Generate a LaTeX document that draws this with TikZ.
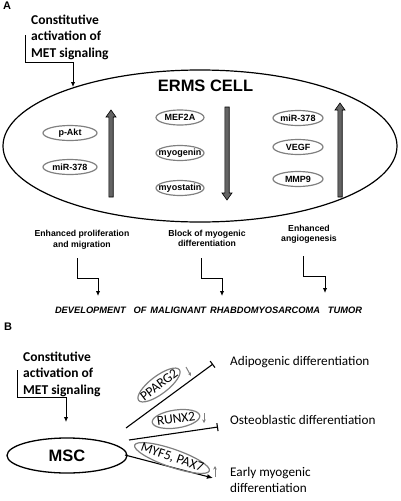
\documentclass[tikz,border=0pt]{standalone}
\usepackage{fontspec}
\setmainfont{Carlito}
\newfontfamily\arial{Liberation Sans}
\usetikzlibrary{arrows.meta,shapes.geometric}
\definecolor{fatgray}{RGB}{100,100,100}
\definecolor{ringgray}{RGB}{128,128,128}
\begin{document}
\begin{tikzpicture}[x=1pt,y=-1pt,
  conn/.style={line width=1pt,-{Latex[length=5pt,width=4.5pt]}},
  teeline/.style={line width=1.1pt,-{Bar[width=8pt,line width=1.1pt]}},
  arrline/.style={line width=1.1pt,-{Latex[length=6pt,width=5pt]}},
  graysmall/.style={draw=ringgray,line width=1pt,-{Stealth[length=3.5pt,width=3.5pt]}},
  gellA/.style={ellipse,draw=ringgray,line width=1.2pt,inner xsep=-8pt,inner ysep=-3pt,
    minimum height=15,font=\arial\bfseries\fontsize{9}{10}\selectfont},
  gellB/.style={ellipse,draw=ringgray,line width=1.2pt,inner xsep=-9pt,inner ysep=-5pt,
    font=\fontsize{13.5}{15}\selectfont},
  fat/.style={draw=black,line width=0.6pt,fill=fatgray},
  panel/.style={font=\arial\bfseries\fontsize{11}{13}\selectfont},
  consttext/.style={align=left,inner sep=0,font=\bfseries\fontsize{13.5}{16.5}\selectfont},
  outtext/.style={align=center,inner sep=0,font=\arial\bfseries\fontsize{8.7}{10.5}\selectfont},
  btext/.style={align=left,anchor=west,inner sep=0,font=\fontsize{13.2}{16}\selectfont}]
\useasboundingbox (0,0) rectangle (400,501);

% ---------------- Panel A ----------------
\node[panel] (A) at (7,6) {A};
\node[consttext,anchor=west] (constA) at (31,37) {Constitutive\\activation of\\MET signaling};
\node[draw,ellipse,line width=1.2pt,minimum width=394,minimum height=152,inner sep=0] (cell) at (200,146) {};
\node[font=\arial\bfseries\fontsize{16.5}{18}\selectfont,inner sep=0] (erms) at (205.5,86) {ERMS CELL};
\coordinate (cA1) at (25,35);
\coordinate (cA2) at (73,62);
\coordinate (cA3) at (73,87);
\draw[conn] (cA1) |- (cA2) -- (cA3);

% left column
\node[gellA,minimum width=54] (pakt) at (70,133) {p-Akt};
\node[gellA,minimum width=54] (mir1) at (70,167) {miR-378};
% middle column
\node[gellA,minimum width=48] (mef) at (180,117.5) {MEF2A};
\node[gellA,minimum width=48] (myog) at (180,153) {myogenin};
\node[gellA,minimum width=48] (myos) at (180,188) {myostatin};
% right column
\node[gellA,minimum width=50] (mir2) at (298,118) {miR-378};
\node[gellA,minimum width=50] (vegf) at (298,147) {VEGF};
\node[gellA,minimum width=50] (mmp) at (298,179) {MMP9};

% thick arrows
\draw[fat] (108.8,197) -- (108.8,117) -- (106,117) -- (111,110) -- (116,117) -- (113.2,117) -- (113.2,197) -- cycle;
\draw[fat] (224.8,107) -- (224.8,193) -- (222,193) -- (227,200) -- (232,193) -- (229.2,193) -- (229.2,107) -- cycle;
\draw[fat] (337.8,197) -- (337.8,110) -- (335,110) -- (340,103) -- (345,110) -- (342.2,110) -- (342.2,197) -- cycle;

% outcomes
\node[outtext] (prol) at (82,240) {Enhanced proliferation\\and migration};
\node[outtext] (block) at (207,238.5) {Block of myogenic\\differentiation};
\node[outtext] (angio) at (309,234.5) {Enhanced\\angiogenesis};

\coordinate (s1a) at (77,258);  \coordinate (s1b) at (98,278);  \coordinate (s1c) at (98,296);
\coordinate (s2a) at (201,258); \coordinate (s2b) at (222,278); \coordinate (s2c) at (222,296);
\coordinate (s3a) at (303,256); \coordinate (s3b) at (325,276); \coordinate (s3c) at (325,293);
\draw[conn] (s1a) |- (s1b) -- (s1c);
\draw[conn] (s2a) |- (s2b) -- (s2c);
\draw[conn] (s3a) |- (s3b) -- (s3c);

\node[inner sep=0,font=\arial\bfseries\itshape\fontsize{9.3}{11}\selectfont] (dev) at (208.5,310.5)
  {\makebox[307pt][s]{DEVELOPMENT \ OF MALIGNANT RHABDOMYOSARCOMA \ TUMOR}};

% ---------------- Panel B ----------------
\node[panel] (B) at (8,327) {B};
\node[consttext,anchor=west] (constB) at (23,374) {Constitutive\\activation of\\MET signaling};
\coordinate (cB1) at (17,370);
\coordinate (cB2) at (66,397);
\coordinate (cB3) at (66,422);
\draw[conn] (cB1) |- (cB2) -- (cB3);

\node[draw,ellipse,line width=1.3pt,minimum width=120,minimum height=35,inner sep=0,
  font=\arial\bfseries\fontsize{16.5}{18}\selectfont] (msc) at (67,455.5) {MSC};

\coordinate (l1a) at (126,428); \coordinate (l1b) at (213,364);
\coordinate (l2a) at (129,440); \coordinate (l2b) at (218,427);
\coordinate (l3a) at (125,455); \coordinate (l3b) at (213,478);
\draw[teeline] (l1a) -- (l1b);
\draw[teeline] (l2a) -- (l2b);
\draw[arrline] (l3a) -- (l3b);

\node[gellB,rotate=37,minimum width=51,minimum height=18] (ppar) at (159,385) {PPARG2};
\node[gellB,rotate=8,minimum width=48,minimum height=18] (runx) at (176,419) {RUNX2};
\node[gellB,rotate=-19,minimum width=79,minimum height=18] (myf) at (172,458) {MYF5, PAX7};

\coordinate (g1a) at (186,367); \coordinate (g1b) at (191,376);
\coordinate (g2a) at (204,413); \coordinate (g2b) at (204,423);
\coordinate (g3a) at (215,477); \coordinate (g3b) at (215,466);
\draw[graysmall] (g1a) -- (g1b);
\draw[graysmall] (g2a) -- (g2b);
\draw[graysmall] (g3a) -- (g3b);

\node[btext] (adipo) at (230,362) {Adipogenic differentiation};
\node[btext] (osteo) at (230,420) {Osteoblastic differentiation};
\node[btext] (early) at (230,480) {Early myogenic\\differentiation};
\end{tikzpicture}
\end{document}
